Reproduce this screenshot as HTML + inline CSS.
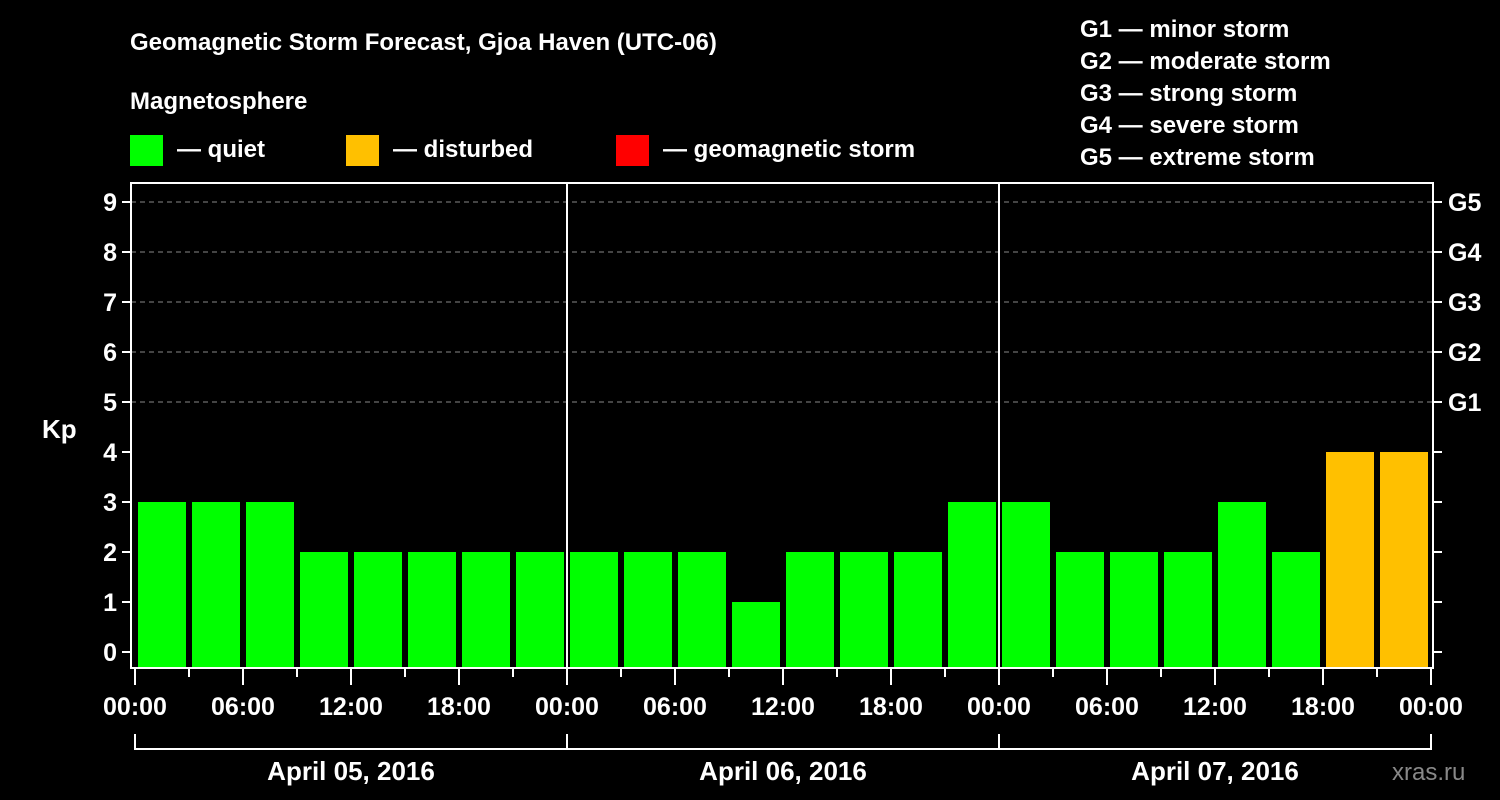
<!DOCTYPE html>
<html><head><meta charset="utf-8"><style>
body{margin:0;background:#000;width:1500px;height:800px;overflow:hidden}
svg{display:block;font-family:"Liberation Sans",Arial,sans-serif;font-weight:bold}
</style></head><body>
<svg id="c" width="1500" height="800">
<text x="130" y="50" fill="#fff" font-size="24">Geomagnetic Storm Forecast, Gjoa Haven (UTC-06)</text>
<text x="130" y="109" fill="#fff" font-size="24">Magnetosphere</text>
<rect x="130" y="135" width="33" height="31" fill="#00ff00"/>
<text x="177" y="157" fill="#fff" font-size="24">— quiet</text>
<rect x="346" y="135" width="33" height="31" fill="#ffc000"/>
<text x="393" y="157" fill="#fff" font-size="24">— disturbed</text>
<rect x="616" y="135" width="33" height="31" fill="#ff0000"/>
<text x="663" y="157" fill="#fff" font-size="24">— geomagnetic storm</text>
<g fill="#fff" font-size="24">
<text x="1080" y="37">G1 — minor storm</text>
<text x="1080" y="69">G2 — moderate storm</text>
<text x="1080" y="101">G3 — strong storm</text>
<text x="1080" y="133">G4 — severe storm</text>
<text x="1080" y="165">G5 — extreme storm</text>
</g>
<text x="42" y="438" fill="#fff" font-size="26">Kp</text>
<text x="1392" y="780" fill="#888" font-size="24" font-weight="normal">xras.ru</text>
<g id="grid"></g><g id="bars"></g><g id="axes"></g>
</svg>
<script>
const kpValues=[3,3,3,2,2,2,2,2,2,2,2,1,2,2,2,3,3,2,2,2,3,2,4,4];
const dayLabels=["April 05, 2016","April 06, 2016","April 07, 2016"];
const hourLabels=["00:00","06:00","12:00","18:00"];
const gLabels=["G1","G2","G3","G4","G5"];
const NS="http://www.w3.org/2000/svg";
const X0=135,PX3H=54,Y0=652,PXKP=50,L=131,R=1433,T=183,B=668;
const x=h=>X0+h/3*PX3H, y=k=>Y0-k*PXKP;
function mk(tag,a,p){const e=document.createElementNS(NS,tag);for(const k in a)e.setAttribute(k,a[k]);p.appendChild(e);return e;}
const grid=document.getElementById('grid'),bars=document.getElementById('bars'),axes=document.getElementById('axes');
for(let k=5;k<=9;k++){const l=mk('line',{x1:L,x2:R,y1:y(k),y2:y(k),stroke:'#888','stroke-dasharray':'5,4','stroke-width':1},grid);

}
kpValues.forEach((v,i)=>{const c=v>=5?'#ff0000':v>=4?'#ffc000':'#00ff00';
const r=mk('rect',{x:x(i*3)+3,y:y(v),width:PX3H-6,height:B-y(v),fill:c},bars);

});
const fr=mk('rect',{x:L,y:T,width:R-L,height:B-T,fill:'none',stroke:'#fff','stroke-width':2},axes);


for(let d=1;d<3;d++){const l=mk('line',{x1:x(d*24),x2:x(d*24),y1:T,y2:B,stroke:'#fff','stroke-width':2},axes);

}
for(let k=0;k<=9;k++){mk('line',{x1:L-9,x2:L,y1:y(k),y2:y(k),stroke:'#fff','stroke-width':2},axes);
mk('line',{x1:R,x2:R+9,y1:y(k),y2:y(k),stroke:'#fff','stroke-width':2},axes);
const t=mk('text',{x:L-14,y:y(k)+9,'text-anchor':'end',fill:'#fff','font-size':25},axes);t.textContent=k;

}
gLabels.forEach((g,i)=>{const t=mk('text',{x:R+15,y:y(5+i)+9,fill:'#fff','font-size':25},axes);t.textContent=g;

});
for(let h=0;h<=72;h+=3){const major=h%6===0;mk('line',{x1:x(h),x2:x(h),y1:B,y2:B+(major?17:9),stroke:'#fff','stroke-width':2},axes);
if(major){const t=mk('text',{x:x(h),y:715,'text-anchor':'middle',fill:'#fff','font-size':25},axes);t.textContent=hourLabels[(h%24)/6];

}}
mk('line',{x1:x(0),x2:x(72),y1:749,y2:749,stroke:'#fff','stroke-width':2},axes);
for(let d=0;d<=3;d++)mk('line',{x1:x(d*24),x2:x(d*24),y1:734,y2:750,stroke:'#fff','stroke-width':2},axes);
dayLabels.forEach((s,d)=>{const t=mk('text',{x:x(d*24+12),y:780,'text-anchor':'middle',fill:'#fff','font-size':26},axes);t.textContent=s;

});
</script>
</body></html>
